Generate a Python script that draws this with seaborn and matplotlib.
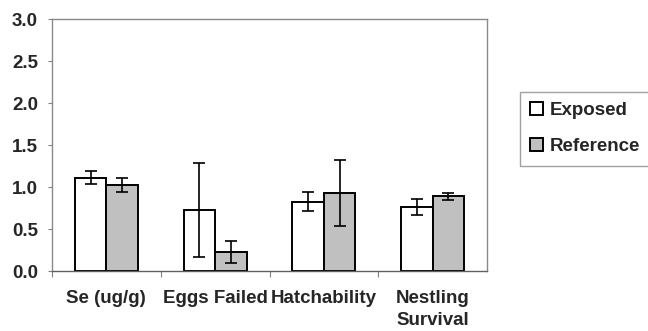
import matplotlib
matplotlib.use("Agg")
import matplotlib.pyplot as plt
import seaborn as sns
import pandas as pd
import numpy as np

categories = ["Se (ug/g)", "Eggs Failed", "Hatchability", "Nestling\nSurvival"]
groups = ["Exposed", "Reference"]
exposed_vals = [1.11, 0.73, 0.825, 0.76]
exposed_err = [0.08, 0.56, 0.115, 0.095]
reference_vals = [1.02, 0.23, 0.93, 0.89]
reference_err = [0.085, 0.13, 0.39, 0.04]
yticks = [0.0, 0.5, 1.0, 1.5, 2.0, 2.5, 3.0]

df = pd.DataFrame({
    "category": categories * 2,
    "group": [groups[0]] * 4 + [groups[1]] * 4,
    "value": exposed_vals + reference_vals,
    "err": exposed_err + reference_err,
})

sns.set_style("white")
plt.rcParams["font.family"] = ["Liberation Sans", "DejaVu Sans"]

FS = 13.5

fig = plt.figure(figsize=(6.48, 3.31), dpi=100)
ax = fig.add_axes([52 / 648, 1 - 271 / 331, (487 - 52) / 648, (271 - 19) / 331])

sns.barplot(data=df, x="category", y="value", hue="group", order=categories,
            hue_order=groups, palette=["white", "#c0c0c0"], edgecolor="black",
            linewidth=1.4, width=0.58, errorbar=None, ax=ax, saturation=1)

# error bars at bar centres
for cont, g in zip(ax.containers, groups):
    sub = df[df.group == g].set_index("category").loc[categories]
    xs = [p.get_x() + p.get_width() / 2 for p in cont.patches]
    ax.errorbar(xs, sub["value"], yerr=sub["err"], fmt="none", ecolor="black",
                elinewidth=1.2, capsize=4, capthick=1.2)

ax.set_ylim(0, 3.0)
ax.set_xlim(-0.5, 3.5)
ax.set_yticks(yticks)
ax.set_yticklabels([f"{t:.1f}" for t in yticks], fontsize=FS, fontweight="bold")
ax.set_xticks([-0.5, 0.5, 1.5, 2.5], minor=False)
ax.set_xticklabels([])
ax.set_xticks(range(4), minor=True)
ax.set_xticklabels(categories, minor=True, fontsize=FS, fontweight="bold",
                   linespacing=1.35)
ax.tick_params(axis="x", which="minor", length=0, pad=14)
ax.tick_params(axis="x", which="major", length=4, color="#808080", direction="out", bottom=True)
ax.tick_params(axis="y", length=3, color="#808080", left=True, pad=7)
ax.set_xlabel("")
ax.set_ylabel("")
for s in ax.spines.values():
    s.set_color("#8a8a8a")
    s.set_linewidth(1.0)
ax.spines["bottom"].set_color("#606060")

handles, labels = ax.get_legend_handles_labels()
leg = fig.legend(handles, labels, loc="upper left", bbox_to_anchor=(520 / 648, 1 - 92 / 331),
                 frameon=True, fancybox=False, edgecolor="#8a8a8a", fontsize=FS,
                 handlelength=0.7, handleheight=0.7, handletextpad=0.35,
                 borderpad=0.55, labelspacing=1.0, borderaxespad=0)
for t in leg.get_texts():
    t.set_fontweight("bold")
if ax.get_legend():
    ax.get_legend().remove()

fig.savefig("out.png", dpi=100)
